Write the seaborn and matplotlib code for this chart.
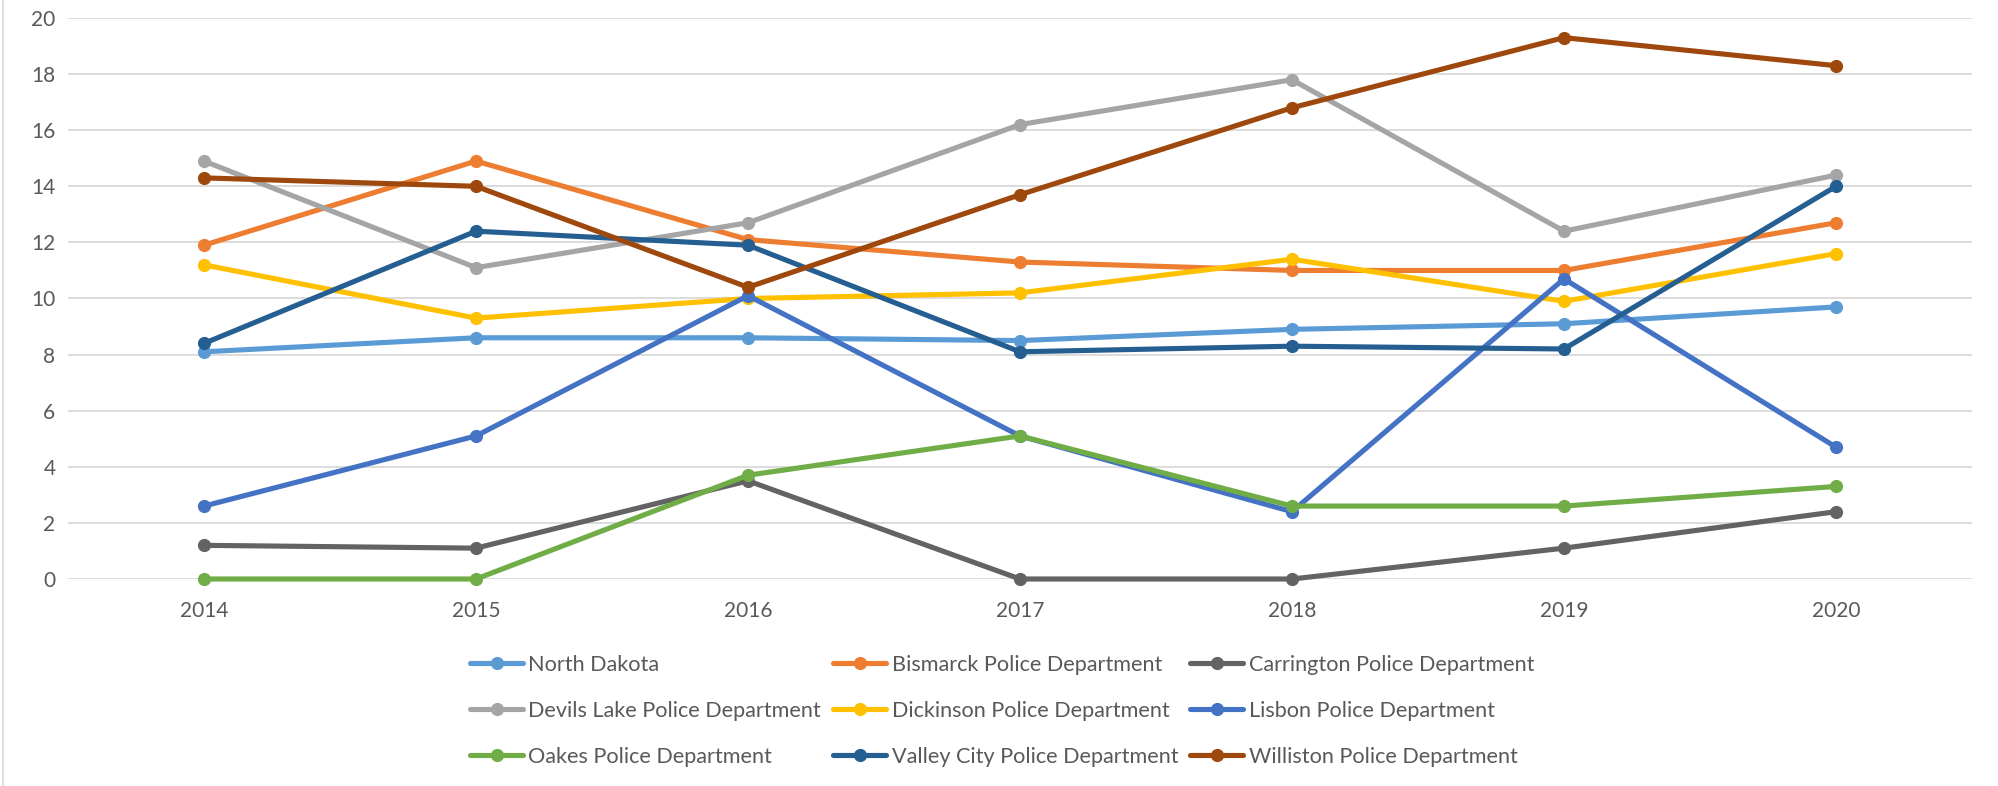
import matplotlib
matplotlib.use("Agg")
import matplotlib.pyplot as plt
import seaborn as sns
import pandas as pd
from matplotlib.lines import Line2D

years = [2014, 2015, 2016, 2017, 2018, 2019, 2020]

north_dakota = [8.1, 8.6, 8.6, 8.5, 8.9, 9.1, 9.7]
bismarck = [11.9, 14.9, 12.1, 11.3, 11.0, 11.0, 12.7]
carrington = [1.2, 1.1, 3.5, 0.0, 0.0, 1.1, 2.4]
devils_lake = [14.9, 11.1, 12.7, 16.2, 17.8, 12.4, 14.4]
dickinson = [11.2, 9.3, 10.0, 10.2, 11.4, 9.9, 11.6]
lisbon = [2.6, 5.1, 10.1, 5.1, 2.4, 10.7, 4.7]
oakes = [0.0, 0.0, 3.7, 5.1, 2.6, 2.6, 3.3]
valley_city = [8.4, 12.4, 11.9, 8.1, 8.3, 8.2, 14.0]
williston = [14.3, 14.0, 10.4, 13.7, 16.8, 19.3, 18.3]

series_names = [
    "North Dakota",
    "Bismarck Police Department",
    "Carrington Police Department",
    "Devils Lake Police Department",
    "Dickinson Police Department",
    "Lisbon Police Department",
    "Oakes Police Department",
    "Valley City Police Department",
    "Williston Police Department",
]
series_values = [north_dakota, bismarck, carrington, devils_lake, dickinson,
                 lisbon, oakes, valley_city, williston]
colors = ["#5B9BD5", "#ED7D31", "#636363", "#A5A5A5", "#FFC000",
          "#4472C4", "#70AD47", "#255E91", "#9E480E"]

y_ticks = [0, 2, 4, 6, 8, 10, 12, 14, 16, 18, 20]

rows = []
for name, vals in zip(series_names, series_values):
    for yr, v in zip(years, vals):
        rows.append({"Year": yr, "Value": v, "Series": name})
df = pd.DataFrame(rows)

sns.set_theme(style="white")
plt.rcParams['font.family'] = ['Lato', 'DejaVu Sans']

W, H = 1999, 786
fig = plt.figure(figsize=(W / 100, H / 100), dpi=100)
ax = fig.add_axes([68 / W, 1 - 579 / H, (1972 - 68) / W, (579 - 18) / H])

palette = dict(zip(series_names, colors))
sns.lineplot(data=df, x="Year", y="Value", hue="Series", hue_order=series_names,
             palette=palette, marker="o", markersize=9.5, markeredgewidth=0,
             linewidth=3.7, ax=ax, legend=False, clip_on=False)

ax.set_xlim(2013.5, 2020.5)
ax.set_ylim(0, 20)
ax.set_xticks(years)
ax.set_xticklabels([str(y) for y in years])
ax.set_yticks(y_ticks)
ax.set_xlabel("")
ax.set_ylabel("")
ax.grid(axis="y", color="#D9D9D9", linewidth=1.3, zorder=0)
ax.set_axisbelow(True)
for s in ax.spines.values():
    s.set_visible(False)
ax.tick_params(axis="both", length=0, labelsize=15, colors="#595959")
ax.tick_params(axis="y", pad=9)
ax.tick_params(axis="x", pad=16)

# legend, row-major order like the original (matplotlib fills column-major)
handles = [Line2D([0], [0], color=c, lw=3.7, marker="o", markersize=9.5,
                  markeredgewidth=0) for c in colors]
order = [0, 3, 6, 1, 4, 7, 2, 5, 8]
leg = fig.legend([handles[i] for i in order], [series_names[i] for i in order],
                 ncol=3, loc="upper left", bbox_to_anchor=(470 / W, 1 - 655 / H),
                 frameon=False, fontsize=15.6, handlelength=2.45, handletextpad=0.25,
                 columnspacing=0.55, labelspacing=1.2, numpoints=1,
                 borderpad=0, borderaxespad=0)
for t in leg.get_texts():
    t.set_color("#595959")

fig.add_artist(Line2D([3.5 / W, 3.5 / W], [0, 1], color="#D9D9D9", lw=1.2,
                      transform=fig.transFigure))

fig.savefig("out.png", dpi=100)
